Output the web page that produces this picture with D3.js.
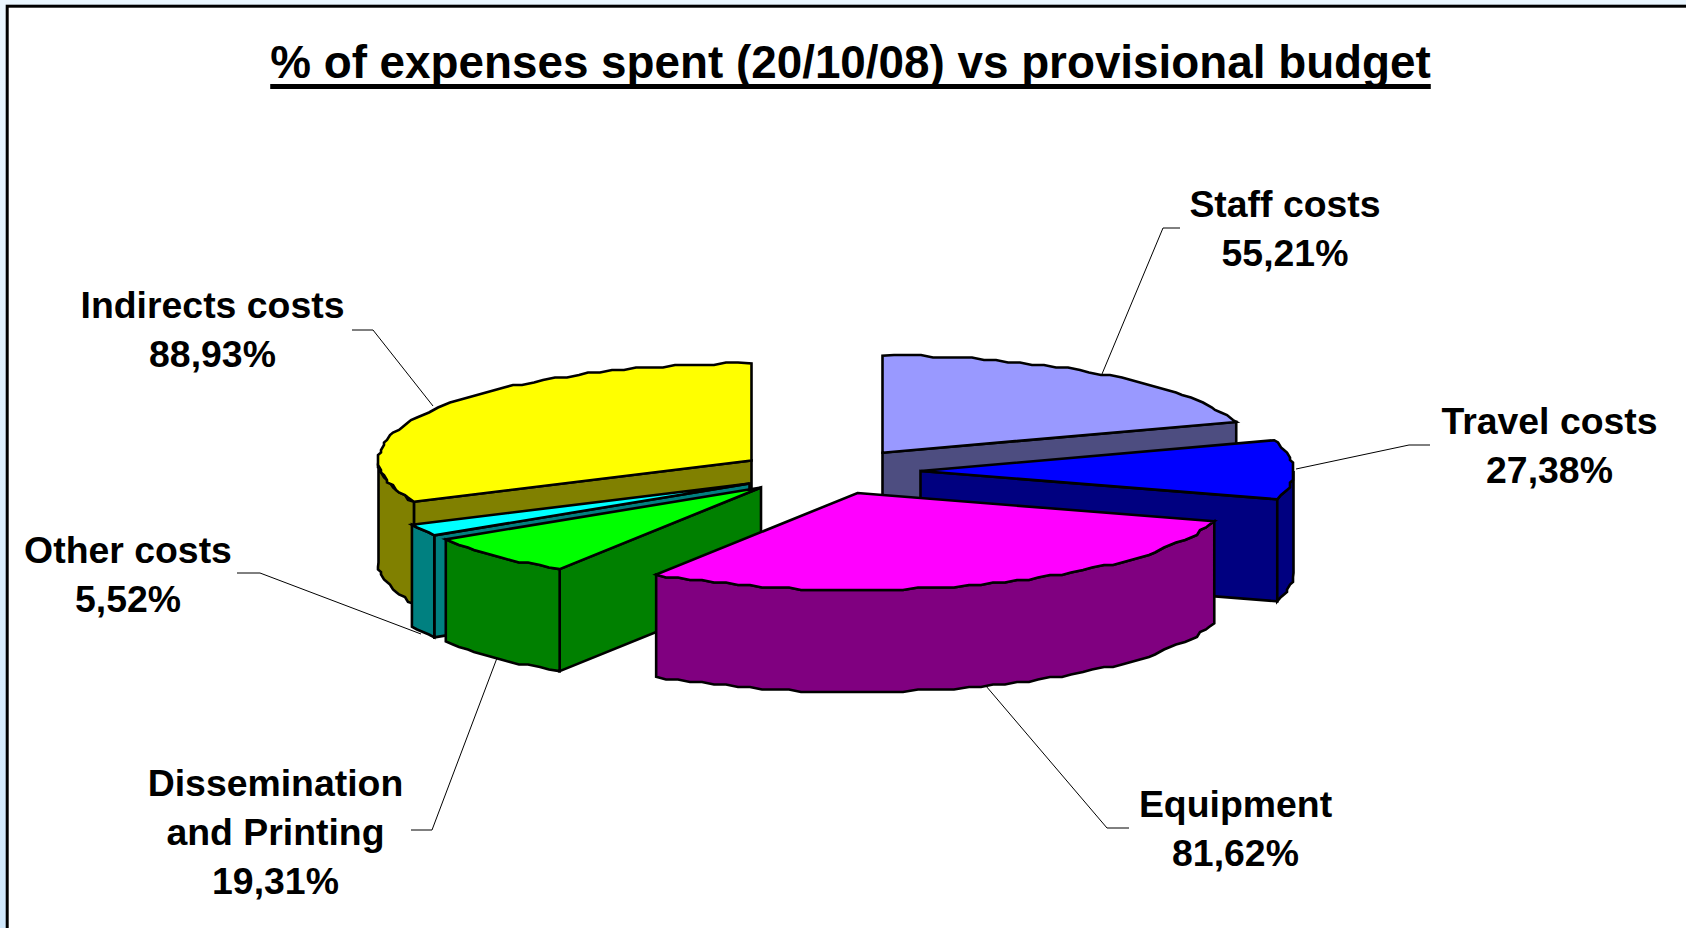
<!DOCTYPE html>
<html>
<head>
<meta charset="utf-8">
<script src="https://cdnjs.cloudflare.com/ajax/libs/d3/7.8.5/d3.min.js"></script>
<style>
	html, body { margin: 0; padding: 0; background: #fff; overflow: hidden; }
	text { font-family: "Liberation Sans", Arial, sans-serif; font-weight: bold; fill: #000; }
</style>
</head>
<body>
<script>
// chart data
var titleText = '% of expenses spent (20/10/08) vs provisional budget';
var categories = ['Staff costs', 'Travel costs', 'Equipment', 'Dissemination and Printing', 'Other costs', 'Indirects costs'];
var values = [55.21, 27.38, 81.62, 19.31, 5.52, 88.93];
var topColors = ['#9999FF', '#0000FF', '#FF00FF', '#00FF00', '#00FFFF', '#FFFF00'];
var sideColors = ['#4D4D80', '#000080', '#800080', '#008000', '#008080', '#808000'];

// layout, separate from the data
var width = 1686,
    height = 928,
    rx = 373,
    ry = 97,
    depth = 102,
    drawOrder = [0, 5, 4, 1, 3, 2];

// where each exploded slice has its tip
var sliceCenters = [[882.5, 452.7], [920.5, 471], [857.5, 493], [761, 487.5], [749.5, 483.5], [751.5, 460.5]];

var labelLines = [
	['Staff costs'], ['Travel costs'], ['Equipment'],
	['Dissemination', 'and Printing'], ['Other costs'], ['Indirects costs']
];
var labelPos = [[1285, 217], [1549.5, 434], [1235.5, 817], [275.5, 796], [128, 562.5], [212.5, 318]];
var leaders = [
	[[1102, 374], [1163, 228], [1180, 228]],
	[[1296, 469], [1409, 445], [1430, 445]],
	[[986, 686], [1107, 828], [1129, 828]],
	[[497, 658], [432, 830], [411, 830]],
	[[421, 634], [260, 573], [237, 573]],
	[[433, 406], [373, 330], [352, 330]]
];

var svg = d3.select('body').append('svg')
	.attr('width', width)
	.attr('height', height)
	.style('display', 'block');

var grad = svg.append('defs').append('linearGradient')
	.attr('id', 'bg')
	.attr('x1', 0).attr('y1', 0).attr('x2', 0).attr('y2', 1);
grad.append('stop').attr('offset', '0%').attr('stop-color', '#EAF6FF');
grad.append('stop').attr('offset', '100%').attr('stop-color', '#D0E8FC');

svg.append('rect').attr('width', width).attr('height', height).attr('fill', 'url(#bg)');

// white panel, its right and bottom edges run off the page
svg.append('rect')
	.attr('x', 7.2).attr('y', 6.2)
	.attr('width', width + 20).attr('height', height + 20)
	.attr('fill', '#fff')
	.attr('stroke', '#000')
	.attr('stroke-width', 3);

var title = svg.append('text')
	.attr('x', 850.5)
	.attr('y', 78)
	.attr('text-anchor', 'middle')
	.attr('font-size', 45.8)
	.text(titleText);

// underline drawn by hand, the css one came out too thin
var titleLen = title.node().getComputedTextLength();
svg.append('line')
	.attr('x1', 850.5 - titleLen / 2)
	.attr('x2', 850.5 + titleLen / 2)
	.attr('y1', 86.5)
	.attr('y2', 86.5)
	.attr('stroke', '#000')
	.attr('stroke-width', 5);

var pie = d3.pie().sort(null).value(function (d) { return d; });
var slices = pie(values);

var x = d3.scaleLinear().domain([-1, 1]).range([-rx, rx]);
var y = d3.scaleLinear().domain([-1, 1]).range([-ry, ry]);
var line = d3.line();

// the original outline is a coarse metafile polyline, so snap the rim to a small grid
function snap(p) {
	return [Math.round(p[0] / 3) * 3, Math.round(p[1] / 2.5) * 2.5];
}

function rimPoint(i, a) {
	return [
		sliceCenters[i][0] + x(Math.sin(a)),
		sliceCenters[i][1] + y(-Math.cos(a))
	];
}

function arcPoints(a0, a1, i) {
	var n = Math.max(1, Math.ceil((a1 - a0) / (Math.PI / 90))),
	    pts = d3.range(n + 1).map(function (k) {
			return rimPoint(i, a0 + (a1 - a0) * k / n);
		});
	return pts.map(function (p, k) {
		return (k === 0 || k === n) ? p : snap(p);
	});
}

function down(p) {
	return [p[0], p[1] + depth];
}

var g = svg.append('g')
	.attr('stroke', '#000')
	.attr('stroke-width', 2.6)
	.attr('stroke-linejoin', 'miter');

drawOrder.forEach(function (i) {
	var d = slices[i],
	    c = sliceCenters[i],
	    sg = g.append('g').attr('class', 'slice');

	// radial walls that face the viewer
	if (Math.sin(d.startAngle) < -1e-6) {
		var p0 = rimPoint(i, d.startAngle);
		sg.append('path').attr('fill', sideColors[i])
			.attr('d', line([c, p0, down(p0), down(c)]) + 'Z');
	}
	if (Math.sin(d.endAngle) > 1e-6) {
		var p1 = rimPoint(i, d.endAngle);
		sg.append('path').attr('fill', sideColors[i])
			.attr('d', line([c, p1, down(p1), down(c)]) + 'Z');
	}

	// outer wall, only the front half of the rim shows
	var a0 = Math.max(d.startAngle, Math.PI / 2),
	    a1 = Math.min(d.endAngle, Math.PI * 3 / 2);
	if (a1 > a0) {
		var rim = arcPoints(a0, a1, i);
		sg.append('path').attr('fill', sideColors[i])
			.attr('d', line(rim.concat(rim.map(down).reverse())) + 'Z');
	}

	// top face
	sg.append('path').attr('fill', topColors[i])
		.attr('d', line([c].concat(arcPoints(d.startAngle, d.endAngle, i))) + 'Z');
});

// leader lines and labels
categories.forEach(function (name, i) {
	svg.append('path')
		.attr('d', line(leaders[i]))
		.attr('fill', 'none')
		.attr('stroke', '#000')
		.attr('stroke-width', 1);

	var t = svg.append('text')
		.attr('text-anchor', 'middle')
		.attr('font-size', 37.4);
	var rows = labelLines[i].concat([d3.format('.2f')(values[i]).replace('.', ',') + '%']);
	rows.forEach(function (row, k) {
		t.append('tspan')
			.attr('x', labelPos[i][0])
			.attr('y', labelPos[i][1] + k * 49.2)
			.text(row);
	});
});
</script>
</body>
</html>
